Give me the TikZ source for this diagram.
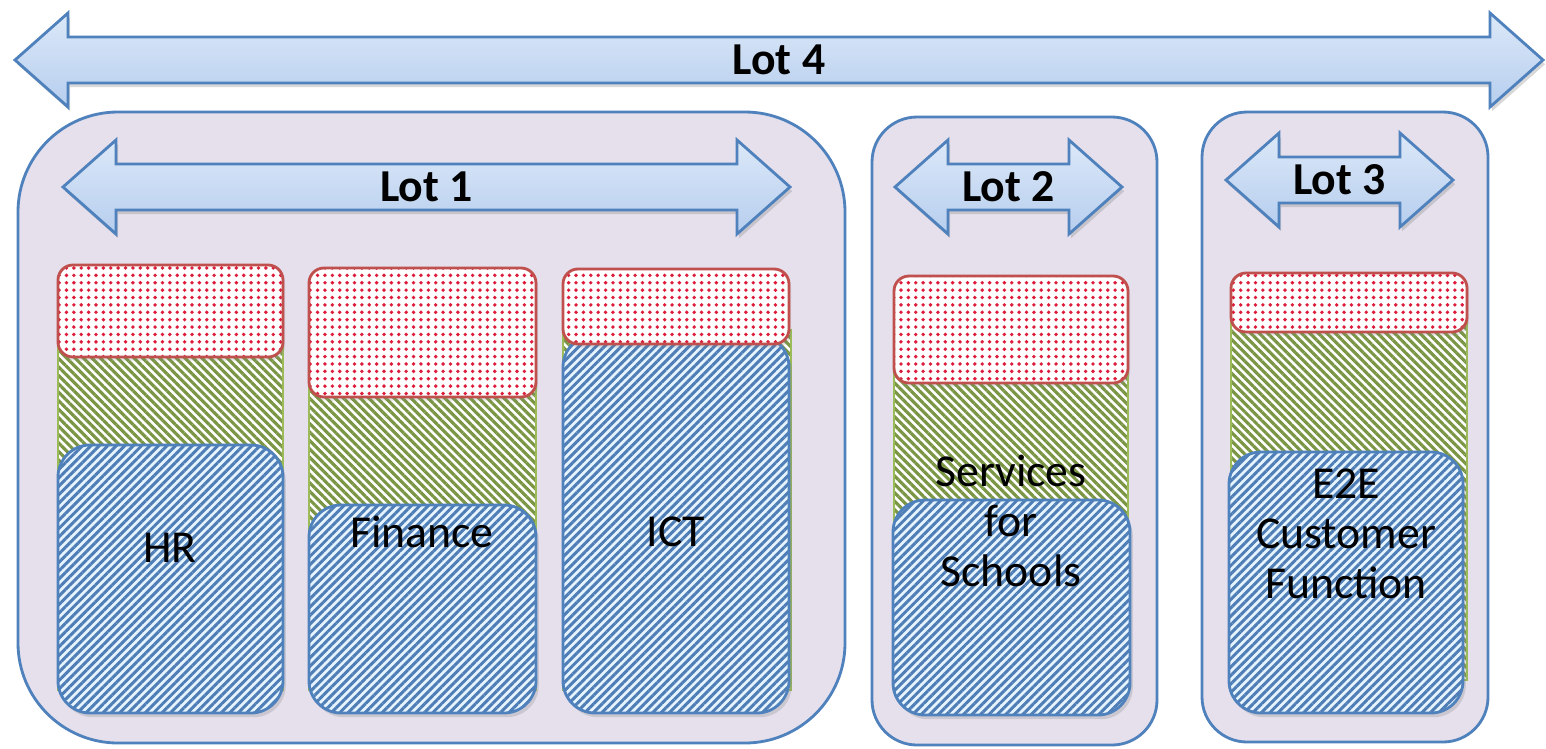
\documentclass[tikz,border=0pt]{standalone}
\usepackage{fontspec}
\setmainfont{Carlito}
\usetikzlibrary{patterns.meta, shadows}
\definecolor{lotBlue}{HTML}{4F81BD}
\definecolor{arrowTop}{HTML}{DCE8F8}
\definecolor{arrowBottom}{HTML}{B6CEEE}
\definecolor{groupFill}{HTML}{E5E0EC}
\definecolor{dotRed}{HTML}{DC1E3C}
\definecolor{edgeRed}{HTML}{C0504D}
\definecolor{stripeGreen}{HTML}{7A9644}
\definecolor{edgeGreen}{HTML}{9BBB59}
\definecolor{stripeBlue}{HTML}{4F7DB5}
\definecolor{paleBlue}{HTML}{E6F4FF}
\tikzset{
  lotArrow/.style={draw=lotBlue, line width=0.8pt, top color=arrowTop,
                   bottom color=arrowBottom,
                   drop shadow={opacity=0.3, shadow xshift=0.6pt, shadow yshift=-1.2pt}},
  lotLabel/.style={font=\bfseries\fontsize{13}{15}\selectfont, inner sep=0pt},
  groupBox/.style={draw=lotBlue, line width=0.8pt, fill=groupFill},
  redBox/.style={draw=edgeRed, line width=0.8pt, rounded corners=0.15cm,
                 drop shadow={opacity=0.2, shadow xshift=0.6pt, shadow yshift=-1pt},
                 preaction={fill=white},
                 pattern={Dots[radius=0.55pt, distance=2.1pt]}, pattern color=dotRed},
  greenBox/.style={draw=edgeGreen, line width=0.6pt, preaction={fill=white},
                   pattern={Lines[angle=-45, distance=1.7pt, line width=0.9pt]},
                   pattern color=stripeGreen},
  blueBox/.style={draw=lotBlue, line width=0.8pt, rounded corners=0.32cm,
                  drop shadow={opacity=0.25, shadow xshift=0.8pt, shadow yshift=-1.2pt},
                  preaction={fill=paleBlue},
                  pattern={Lines[angle=45, distance=1.7pt, line width=0.85pt]},
                  pattern color=stripeBlue},
  areaLabel/.style={align=center, font=\fontsize{13}{14.2}\selectfont, inner sep=0pt},
}
% two-headed lot arrow: left tip, right tip, middle line, node name, text
\newcommand{\lotArrow}[5]{%
  \draw[lotArrow] (#1,#3) -- (#1+53,#3-47) -- (#1+53,#3-23) -- (#2-53,#3-23)
    -- (#2-53,#3-47) -- (#2,#3) -- (#2-53,#3+47) -- (#2-53,#3+23)
    -- (#1+53,#3+23) -- (#1+53,#3+47) -- cycle;
  \node[lotLabel] (#4) at ({(#1+#2)/2},#3) {#5};}

\begin{document}
\begin{tikzpicture}[x=0.01cm, y=-0.01cm]
  \fill[white] (0,0) rectangle (1546,748);
  \useasboundingbox (0,0) rectangle (1546,748);

  % lot groups
  \draw[groupBox, rounded corners=1cm] (18,112) rectangle (845,743);
  \draw[groupBox, rounded corners=0.45cm] (872,117) rectangle (1157,745);
  \draw[groupBox, rounded corners=0.45cm] (1202,112) rectangle (1488,742);

  % arrows
  \lotArrow{15}{1543}{60}{lot4}{Lot 4}
  \lotArrow{63}{790}{187}{lot1}{Lot 1}
  \lotArrow{895}{1122}{187}{lot2}{Lot 2}
  \lotArrow{1226}{1453}{180}{lot3}{Lot 3}

  % middle layer
  \draw[greenBox] (58,340) rectangle (283,690);
  \draw[greenBox] (309,380) rectangle (536,690);
  \draw[greenBox] (563,330) rectangle (791,690);
  \draw[greenBox] (894,370) rectangle (1128,690);
  \draw[greenBox] (1231,320) rectangle (1467,680);

  % service areas
  \draw[blueBox] (58,445) rectangle (283,713);
  \draw[blueBox] (309,505) rectangle (536,713);
  \draw[blueBox] (563,335) rectangle (789,713);
  \draw[blueBox] (893,500) rectangle (1130,715);
  \draw[blueBox] (1229,452) rectangle (1463,713);

  % top layer
  \draw[redBox] (58,265) rectangle (283,357);
  \draw[redBox] (309,268) rectangle (536,397);
  \draw[redBox] (563,269) rectangle (789,344);
  \draw[redBox] (894,276) rectangle (1128,383);
  \draw[redBox] (1231,273) rectangle (1467,332);

  \node[areaLabel] (hr) at (170,548) {HR};
  \node[areaLabel] (finance) at (422,532) {Finance};
  \node[areaLabel] (ict) at (676,532) {ICT};
  \node[areaLabel] (schools) at (1011,521) {Services\\for\\Schools};
  \node[areaLabel] (e2e) at (1346,534) {E2E\\Customer\\Function};
\end{tikzpicture}
\end{document}
